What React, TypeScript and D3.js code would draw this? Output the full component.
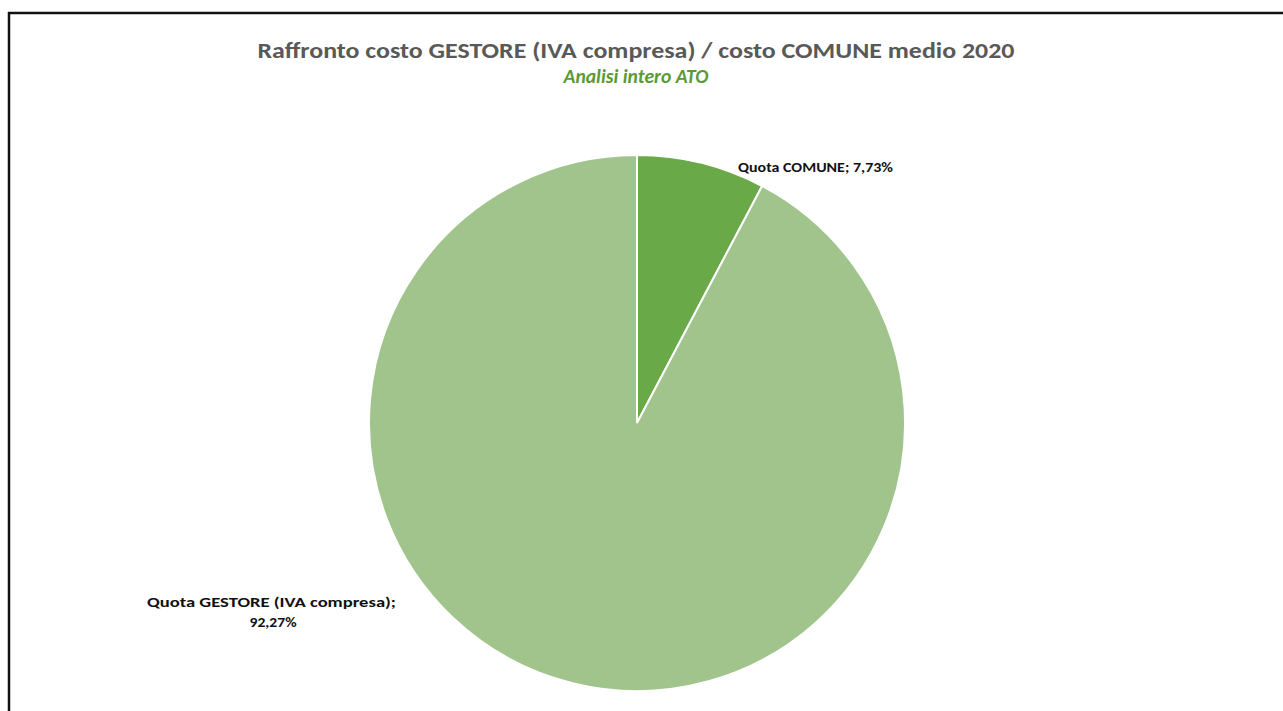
import React, { useEffect, useRef } from "react";
import * as d3 from "d3";

const categories = ["Quota GESTORE (IVA compresa)", "Quota COMUNE"];
const values = [92.27, 7.73];
const valueLabels = ["92,27%", "7,73%"];
const colors = ["#a0c48b", "#6aa947"];
const title = "Raffronto costo GESTORE (IVA compresa) / costo COMUNE medio 2020";
const subtitle = "Analisi intero ATO";

const W = 1283;
const H = 711;

export default function App() {
  const ref = useRef<SVGSVGElement | null>(null);
  useEffect(() => {
    document.body.style.margin = "0";
    const svg = d3.select(ref.current);
    svg.selectAll("*").remove();
    const font = "Carlito, Calibri, Lato, 'Open Sans', sans-serif";

    svg.append("rect").attr("width", W).attr("height", H).attr("fill", "#fff");
    // frame (top & left visible)
    svg.append("line").attr("x1", 8).attr("x2", W).attr("y1", 13).attr("y2", 13).attr("stroke", "#111").attr("stroke-width", 2.5);
    svg.append("line").attr("x1", 9).attr("x2", 9).attr("y1", 12).attr("y2", H).attr("stroke", "#111").attr("stroke-width", 2.5);

    svg.append("text").attr("x", 636).attr("y", 58).attr("text-anchor", "middle")
      .attr("font-family", font).attr("font-size", 23).attr("font-weight", 600).attr("fill", "#595959")
      .attr("textLength", 757).attr("lengthAdjust", "spacingAndGlyphs").text(title);
    svg.append("text").attr("x", 636).attr("y", 83).attr("text-anchor", "middle")
      .attr("font-family", font).attr("font-size", 21).attr("font-weight", 600).attr("font-style", "italic").attr("fill", "#5b9a32")
      .attr("textLength", 145).attr("lengthAdjust", "spacingAndGlyphs").text(subtitle);

    const cx = 637, cy = 423, r = 268;
    const data = categories.map((c, i) => ({ c, v: values[i], lbl: valueLabels[i], col: colors[i] }));
    // COMUNE first from 12 o'clock clockwise
    const order = [data[1], data[0]];
    const pie = d3.pie<any>().sort(null).value((d: any) => d.v);
    const arc = d3.arc<any>().innerRadius(0).outerRadius(r);
    const g = svg.append("g").attr("transform", `translate(${cx},${cy})`);
    g.selectAll("path").data(pie(order)).enter().append("path")
      .attr("d", arc as any).attr("fill", (d: any) => d.data.col)
      .attr("stroke", "#fff").attr("stroke-width", 2);

    // labels
    svg.append("text").attr("x", 738).attr("y", 172).attr("font-family", font).attr("font-size", 14)
      .attr("font-weight", 700).attr("fill", "#111").attr("textLength", 155).attr("lengthAdjust", "spacingAndGlyphs")
      .text(`${categories[1]}; ${valueLabels[1]}`);
    svg.append("text").attr("x", 147).attr("y", 607).attr("font-family", font).attr("font-size", 14)
      .attr("font-weight", 700).attr("fill", "#111").attr("textLength", 249).attr("lengthAdjust", "spacingAndGlyphs")
      .text(`${categories[0]};`);
    svg.append("text").attr("x", 273).attr("y", 627).attr("text-anchor", "middle").attr("font-family", font).attr("font-size", 14)
      .attr("font-weight", 700).attr("fill", "#111").attr("textLength", 47).attr("lengthAdjust", "spacingAndGlyphs")
      .text(valueLabels[0]);
  }, []);
  return <svg ref={ref} width={W} height={H} style={{ display: "block" }} />;
}
